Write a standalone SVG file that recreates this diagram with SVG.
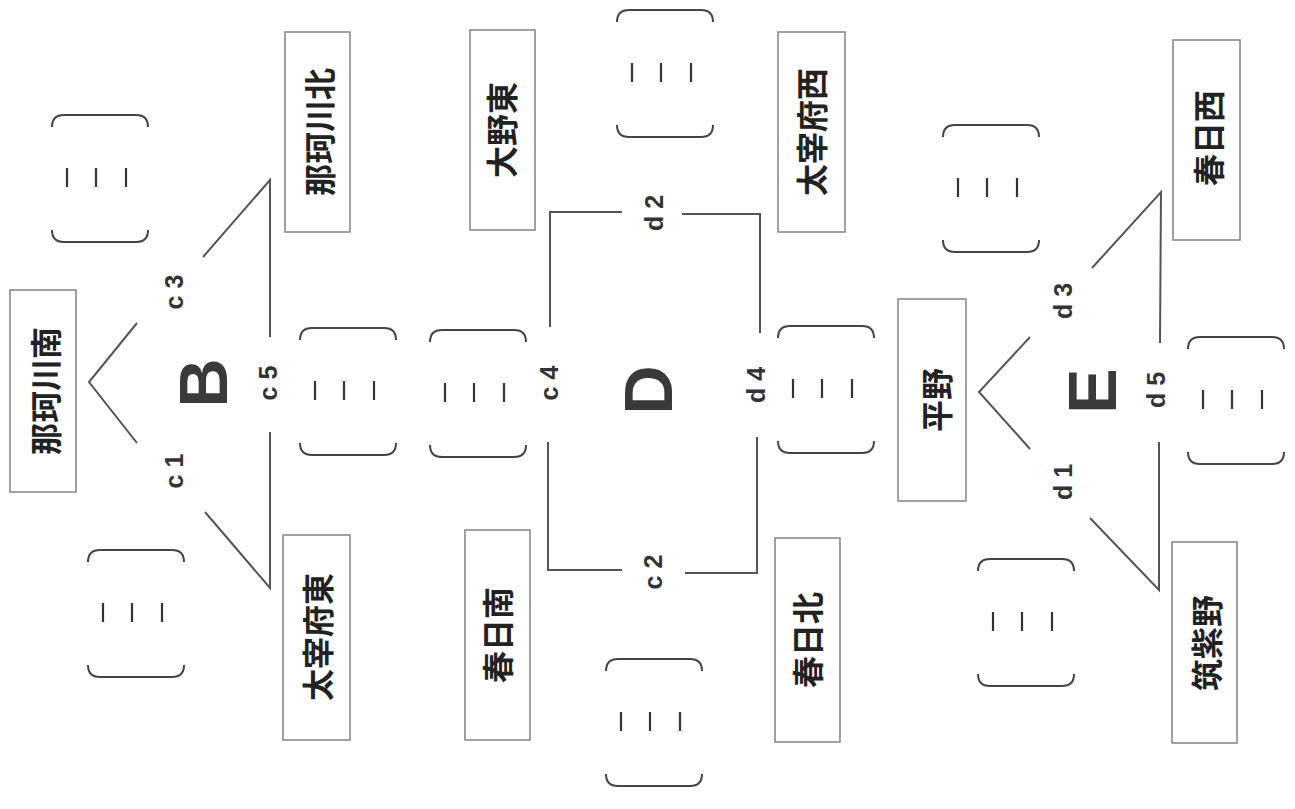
<svg xmlns="http://www.w3.org/2000/svg" width="1295" height="809" viewBox="0 0 1295 809">
<style>
.bg{fill:#ffffff}
.box{fill:#ffffff;stroke:#8a8a8a;stroke-width:1.6}
.lbl{font-family:"Noto Sans CJK JP","Noto Sans CJK SC",sans-serif;font-size:32px;font-weight:bold;fill:#222;text-anchor:middle}
.big{font-family:"Liberation Sans",Arial,sans-serif;font-size:68px;font-weight:bold;fill:#3a3a3a;text-anchor:middle}
.sm{font-family:"Liberation Sans",Arial,sans-serif;font-size:25px;font-weight:bold;fill:#333;text-anchor:middle}
.ln{fill:none;stroke:#555;stroke-width:2;stroke-linejoin:miter}
.br{fill:none;stroke:#444;stroke-width:2}
.bar{stroke:#333;stroke-width:2.2}
</style>
<rect class="bg" x="0" y="0" width="1295" height="809"/>
<defs>
<g id="bracket">
<path class="br" d="M0,12 Q0,0 12,0 H84 Q96,0 96,12"/>
<path class="br" d="M0,115 Q0,127 12,127 H84 Q96,127 96,115"/>
<line class="bar" x1="15" y1="53" x2="15" y2="72"/>
<line class="bar" x1="44" y1="53" x2="44" y2="72"/>
<line class="bar" x1="74" y1="53" x2="74" y2="72"/>
</g>
</defs>
<g id="connectors">
<path class="ln" d="M137,323 L89,382 L137,443"/>
<path class="ln" d="M203,257 L270,180 L270,337"/>
<path class="ln" d="M205,512 L270,588 L270,432"/>
<path class="ln" d="M622,212 L550,212 L550,327"/>
<path class="ln" d="M682,214 L760,214 L760,333"/>
<path class="ln" d="M548,442 L548,570 L622,570"/>
<path class="ln" d="M685,573 L757,573 L757,437"/>
<path class="ln" d="M1030,337 L979,392 L1030,449"/>
<path class="ln" d="M1092,268 L1161,192 L1160,343"/>
<path class="ln" d="M1090,518 L1159,590 L1159,442"/>
</g>
<g id="node-nakagawa-minami"><rect class="box" x="10" y="290" width="66" height="202"/><text class="lbl" x="58" y="391" transform="rotate(-90 58 391)">那珂川南</text></g>
<g id="node-nakagawa-kita"><rect class="box" x="285" y="32" width="65" height="200"/><text class="lbl" x="332" y="132" transform="rotate(-90 332 132)">那珂川北</text></g>
<g id="node-dazaifu-higashi"><rect class="box" x="283" y="535" width="67" height="205"/><text class="lbl" x="330" y="637" transform="rotate(-90 330 637)">太宰府東</text></g>
<g id="node-ono-higashi"><rect class="box" x="470" y="30" width="65" height="200"/><text class="lbl" x="514" y="130" transform="rotate(-90 514 130)">大野東</text></g>
<g id="node-dazaifu-nishi"><rect class="box" x="778" y="32" width="67" height="200"/><text class="lbl" x="824" y="132" transform="rotate(-90 824 132)">太宰府西</text></g>
<g id="node-kasuga-minami"><rect class="box" x="465" y="530" width="65" height="210"/><text class="lbl" x="510" y="635" transform="rotate(-90 510 635)">春日南</text></g>
<g id="node-kasuga-kita"><rect class="box" x="775" y="538" width="65" height="204"/><text class="lbl" x="820" y="640" transform="rotate(-90 820 640)">春日北</text></g>
<g id="node-hirano"><rect class="box" x="898" y="299" width="68" height="202"/><text class="lbl" x="949" y="400" transform="rotate(-90 949 400)">平野</text></g>
<g id="node-kasuga-nishi"><rect class="box" x="1173" y="40" width="67" height="200"/><text class="lbl" x="1221" y="138" transform="rotate(-90 1221 138)">春日西</text></g>
<g id="node-chikushino"><rect class="box" x="1172" y="542" width="65" height="201"/><text class="lbl" x="1219" y="643" transform="rotate(-90 1219 643)">筑紫野</text></g>
<g id="node-B"><text class="big" x="227" y="383" transform="rotate(-90 227 383)">B</text></g>
<g id="node-D"><text class="big" x="672" y="390" transform="rotate(-90 672 390)">D</text></g>
<g id="node-E"><text class="big" x="1116" y="391" transform="rotate(-90 1116 391)">E</text></g>
<g id="labels">
<text class="sm" x="183" y="292" transform="rotate(-90 183 292)">c 3</text>
<text class="sm" x="183" y="471" transform="rotate(-90 183 471)">c 1</text>
<text class="sm" x="277" y="383" transform="rotate(-90 277 383)">c 5</text>
<text class="sm" x="558" y="383" transform="rotate(-90 558 383)">c 4</text>
<text class="sm" x="765" y="385" transform="rotate(-90 765 385)">d 4</text>
<text class="sm" x="663" y="213" transform="rotate(-90 663 213)">d 2</text>
<text class="sm" x="662" y="572" transform="rotate(-90 662 572)">c 2</text>
<text class="sm" x="1072" y="301" transform="rotate(-90 1072 301)">d 3</text>
<text class="sm" x="1072" y="482" transform="rotate(-90 1072 482)">d 1</text>
<text class="sm" x="1165" y="390" transform="rotate(-90 1165 390)">d 5</text>
</g>
<g id="answer-brackets">
<use href="#bracket" x="52" y="115"/>
<use href="#bracket" x="88" y="550"/>
<use href="#bracket" x="300" y="328"/>
<use href="#bracket" x="430" y="330"/>
<use href="#bracket" x="617" y="10"/>
<use href="#bracket" x="606" y="659"/>
<use href="#bracket" x="778" y="326"/>
<use href="#bracket" x="943" y="125"/>
<use href="#bracket" x="1188" y="337"/>
<use href="#bracket" x="978" y="559"/>
</g>
</svg>
